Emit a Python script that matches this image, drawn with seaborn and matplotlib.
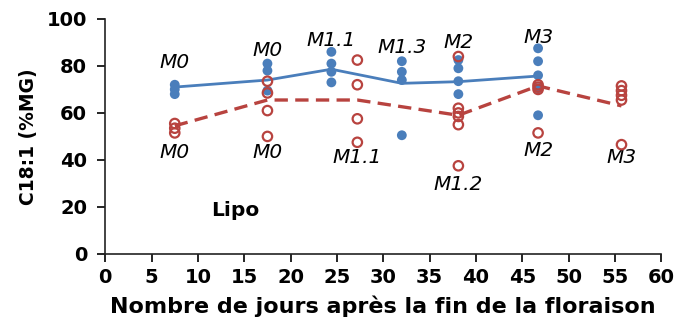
import matplotlib
matplotlib.use("Agg")
import matplotlib.pyplot as plt
import seaborn as sns
import pandas as pd

# Sampling days after the end of flowering
blue_days = [7.5, 17.5, 24.4, 32.0, 38.1, 46.7]
red_days = [7.5, 17.5, 27.2, 38.1, 46.7, 55.7]

# Individual C18:1 values per sampling (%MG)
blue_values = [
    [72, 70, 68],
    [81, 78, 69.5],
    [86, 81, 77.5, 73],
    [82, 77.5, 74, 50.5],
    [82.5, 79, 73.5, 68],
    [87.5, 82, 76, 70.5, 59],
]
red_values = [
    [55.5, 53.5, 51.5],
    [73.5, 68.5, 61, 50],
    [82.5, 72, 57.5, 47.5],
    [84, 62, 60, 58.5, 55, 37.5],
    [72, 71, 70, 51.5],
    [71.5, 69.5, 67.5, 65.5, 46.5],
]

# Mean curves
blue_mean = [71, 74, 78.6, 72.6, 73.3, 75.7]
red_mean = [54.5, 65.5, 65.5, 59, 71.5, 63]

# Sample labels
blue_labels = ["M0", "M0", "M1.1", "M1.3", "M2", "M3"]
blue_label_y = [81.5, 86.5, 91, 88, 90, 92]
red_labels = ["M0", "M0", "M1.1", "M1.2", "M2", "M3"]
red_label_y = [43, 43, 41, 29.5, 44, 41]

x_ticks = list(range(0, 61, 5))
y_ticks = list(range(0, 101, 20))

BLUE = "#4a7ebb"
RED = "#b8433f"

blue_df = pd.DataFrame(
    [(d, v) for d, vals in zip(blue_days, blue_values) for v in vals],
    columns=["day", "value"],
)
red_df = pd.DataFrame(
    [(d, v) for d, vals in zip(red_days, red_values) for v in vals],
    columns=["day", "value"],
)
blue_mean_df = pd.DataFrame({"day": blue_days, "value": blue_mean})
red_mean_df = pd.DataFrame({"day": red_days, "value": red_mean})

sns.set_style("ticks")
plt.rcParams["font.family"] = ["DejaVu Sans"]
plt.rcParams["text.color"] = "black"
plt.rcParams["axes.labelcolor"] = "black"
plt.rcParams["xtick.color"] = "black"
plt.rcParams["ytick.color"] = "black"

fig = plt.figure(figsize=(6.79, 3.21), dpi=100)
ax = fig.add_axes([0.155, 0.209, 0.819, 0.732])

sns.lineplot(data=red_mean_df, x="day", y="value", ax=ax, color=RED,
             linewidth=2.4, linestyle=(0, (4, 2.2)), zorder=2)
sns.lineplot(data=blue_mean_df, x="day", y="value", ax=ax, color=BLUE,
             linewidth=2.0, zorder=2)
sns.scatterplot(data=blue_df, x="day", y="value", ax=ax, color=BLUE,
                s=50, edgecolor="none", zorder=3)
sns.scatterplot(data=red_df, x="day", y="value", ax=ax, facecolor="none",
                edgecolor=RED, linewidth=1.6, s=46, zorder=4)

label_font = dict(family="DejaVu Sans", style="italic",
                  fontsize=14.5, ha="center", va="center", color="black")
for d, y, t in zip(blue_days, blue_label_y, blue_labels):
    ax.text(d, y, t, **label_font)
for d, y, t in zip(red_days, red_label_y, red_labels):
    ax.text(d, y, t, **label_font)

ax.text(14, 18.5, "Lipo", fontweight="bold", fontsize=14.5,
        ha="center", va="center")

ax.set_xlim(0, 60)
ax.set_ylim(0, 100)
ax.set_xticks(x_ticks)
ax.set_yticks(y_ticks)
ax.tick_params(axis="both", direction="out", length=6, width=1.2,
               colors="black", labelsize=14)
ax.tick_params(axis="y", pad=7)
ax.tick_params(axis="x", pad=4)
for lab in ax.get_xticklabels() + ax.get_yticklabels():
    lab.set_fontweight("bold")
for side in ("top", "right"):
    ax.spines[side].set_visible(False)
for side in ("left", "bottom"):
    ax.spines[side].set_linewidth(1.2)
    ax.spines[side].set_color("#222222")

ax.set_xlabel("Nombre de jours après la fin de la floraison",
              fontweight="bold", fontsize=16, labelpad=6)
ax.set_ylabel("C18:1 (%MG)", fontweight="bold", fontsize=13.5, labelpad=6)

fig.savefig("out.png", dpi=100)
